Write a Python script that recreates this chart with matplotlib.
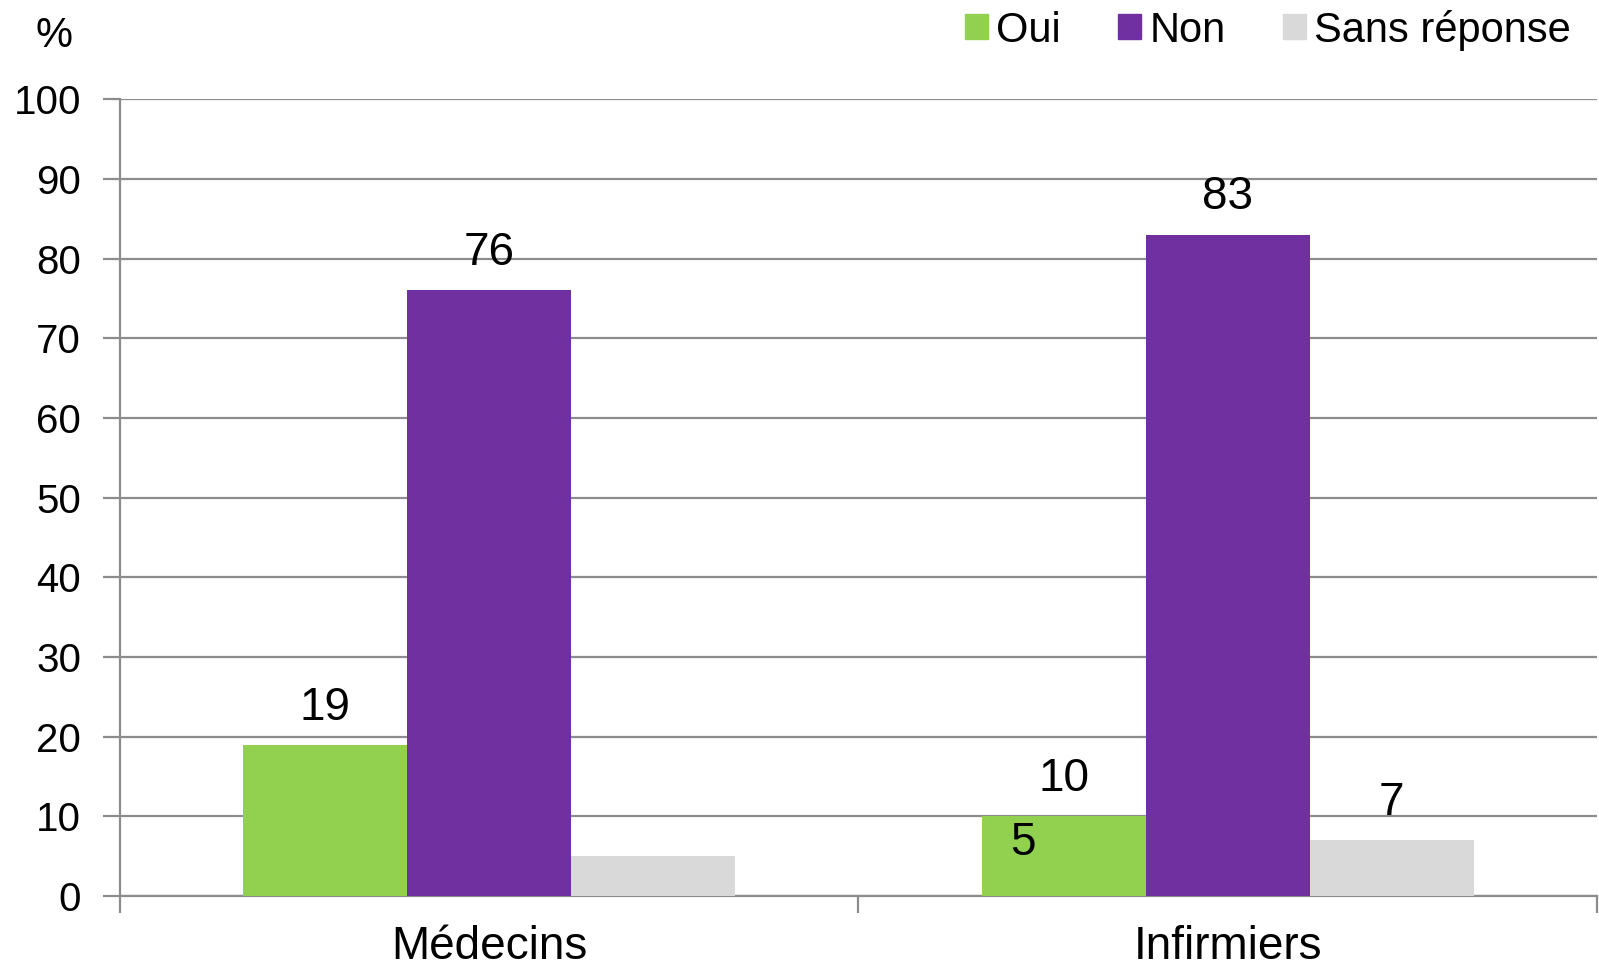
import numpy as np
import matplotlib.pyplot as plt
from matplotlib.patches import Patch

plt.rcParams['font.family'] = ['Liberation Sans', 'DejaVu Sans']

categories = ['Médecins', 'Infirmiers']
series = ['Oui', 'Non', 'Sans réponse']
oui = [19, 10]
non = [76, 83]
sans = [5, 7]
colors = ['#92D050', '#7030A0', '#D9D9D9']

fig = plt.figure(figsize=(15.99, 9.72), dpi=100)
ax = fig.add_axes([0.075, 0.078, 0.9237, 0.82])

x = np.arange(len(categories))
w = 0.222
vals = [oui, non, sans]
for i, (v, c) in enumerate(zip(vals, colors)):
    ax.bar(x + (i - 1) * w, v, w, color=c, zorder=3)

# value labels
for i, v in enumerate(vals):
    for j, val in enumerate(v):
        if i == 2 and j == 0:
            continue
        ax.text(x[j] + (i - 1) * w, val + 1.9, str(val), ha='center', va='bottom',
                fontsize=33)
# the misplaced "5" label as in the original
ax.text(x[1] - w - 0.055, sans[0] + 1.7, str(sans[0]), ha='center', va='center', fontsize=33)

ax.set_xlim(-0.5, 1.5)
ax.set_ylim(0, 100)
ax.set_yticks(np.arange(0, 101, 10))
ax.yaxis.grid(True, color='#8c8c8c', lw=1.6, zorder=0)
ax.set_xticks([-0.5, 0.5, 1.5])
ax.set_xticklabels([])
ax.set_xticks(x, minor=True)
ax.set_xticklabels(categories, minor=True, fontsize=33)
ax.tick_params(axis='x', which='minor', length=0, pad=21)
ax.tick_params(axis='x', which='major', length=12, width=1.6, color='#8c8c8c')
ax.tick_params(axis='y', length=12, width=1.6, color='#8c8c8c', labelsize=29, pad=16)
for s in ['top', 'right']:
    ax.spines[s].set_visible(False)
for s in ['left', 'bottom']:
    ax.spines[s].set_color('#8c8c8c')
    ax.spines[s].set_linewidth(1.6)

fig.text(0.034, 0.963, '%', ha='center', va='center', fontsize=30)

handles = [Patch(color=c) for c in colors]
fig.legend(handles, series, loc='center right', bbox_to_anchor=(1.006, 0.969), ncol=3,
           frameon=False, fontsize=30, handlelength=0.55, handleheight=0.55,
           handletextpad=0.2, columnspacing=1.38)

fig.savefig('out.png', dpi=100)
